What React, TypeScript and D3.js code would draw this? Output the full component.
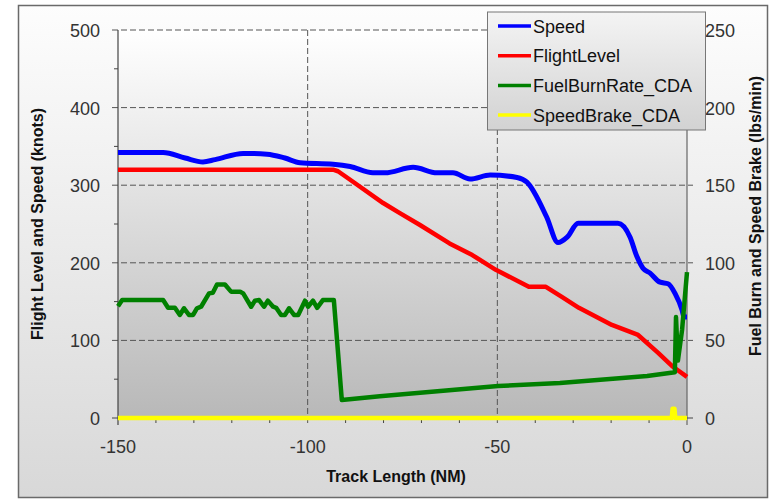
import React from "react";
import * as d3 from "d3";

// ---- Data (Track Length in NM) ----
const speedNM = [-150, -138.1, -132.3, -127.6, -124.4, -117, -110.7, -106, -102, -93.3, -88.8, -82.8, -79.6, -72.2, -65.9, -61.7, -57.2, -51.9, -44.8, -42.2, -37.0, -34.0, -31.6, -28.7, -18.2, -15, -13.2, -11.6, -9.8, -7.1, -5, -3.2, -1.3, -0.8, 0];
const speedKnots = [342, 342, 335, 330, 333, 341, 340, 335, 329, 327, 324, 316, 316, 323, 316, 316, 308, 313, 310, 304, 259, 226, 233, 251, 251, 233, 208, 193, 187, 175, 173, 161, 139, 130, 130];

const flightLevelNM = [-150, -93.3, -92, -88.8, -80.1, -75.7, -70.5, -62.6, -56.6, -50.4, -41.7, -37.2, -33, -28.5, -19.8, -12.9, -7.6, -3.7, 0];
const flightLevelValues = [320, 320, 318, 307, 277, 264, 249, 225, 210, 191, 169, 169, 156, 142, 120, 107, 84, 66, 53];

const fuelNM = [-150, -148.9, -138.1, -136.8, -135, -133.7, -132.6, -131.3, -130.2, -129.2, -128.1, -126, -125, -123.9, -121.8, -120.2, -117.8, -117, -114.9, -113.9, -112.8, -111.5, -110.5, -109.1, -108.3, -107, -106, -104.9, -103.6, -102.5, -100.7, -99.9, -98.6, -97.5, -96, -93.1, -91, -81, -49.8, -33.5, -10.5, -3.2, -2.9, -2.4, -1.3, 0];
const fuelValues = [72, 76, 76, 71, 71, 66.4, 70.7, 66.4, 66.4, 70.7, 71.7, 80.3, 80.7, 86, 86, 81.4, 81.4, 80.3, 71.7, 75.6, 76, 71.7, 75.6, 71.7, 71, 66.4, 66.4, 70.7, 66.4, 66.4, 75.6, 71.7, 75.6, 71, 76, 76, 11.6, 14, 20.6, 22.5, 27, 29.5, 65, 37, 56.7, 94];

const brakeNM = [-150, -4.0, -3.8, -3.3, -3.1, 0];
const brakeValues = [0, 0, 6, 6, 0, 0];

const xTicks = [-150, -100, -50, 0];
const xMinorTicks = [-140, -130, -120, -110, -90, -80, -70, -60, -40, -30, -20, -10];
const leftTicks = [0, 100, 200, 300, 400, 500];
const leftMinorTicks = [50, 150, 250, 350, 450];
const rightTicks = [0, 50, 100, 150, 200, 250];

const seriesNames = ["Speed", "FlightLevel", "FuelBurnRate_CDA", "SpeedBrake_CDA"];
const seriesColors = ["#0000ff", "#ff0000", "#008000", "#ffff00"];

const FONT = "'Liberation Sans', Arial, sans-serif";

export default function App() {
  const x = d3.scaleLinear().domain([-150, 0]).range([118, 687]);
  const yL = d3.scaleLinear().domain([0, 500]).range([418, 30]);
  const yR = d3.scaleLinear().domain([0, 250]).range([418, 30]);

  const mk = (xs: number[], ys: number[], ys2: any, curve: any) =>
    d3
      .line<number>()
      .x((_, i) => x(xs[i]))
      .y((v) => ys2(v))
      .curve(curve)(ys) as string;

  const speedPath = mk(speedNM, speedKnots, yL, d3.curveMonotoneX);
  const flPath = mk(flightLevelNM, flightLevelValues, yL, d3.curveLinear);
  const fuelPath = mk(fuelNM, fuelValues, yR, d3.curveLinear);
  const brakePath = mk(brakeNM, brakeValues, yR, d3.curveLinear);

  const [x0, x1] = x.range();
  const [yb, yt] = yL.range();

  return (
    <div style={{ position: "absolute", left: 0, top: 0 }}>
      <svg width={778} height={499} style={{ display: "block" }} fontFamily={FONT}>
        <defs>
          <linearGradient id="outerBg" x1="0" y1="0" x2="0" y2="1">
            <stop offset="0" stopColor="#fdfdfd" />
            <stop offset="1" stopColor="#d8d8d8" />
          </linearGradient>
          <linearGradient id="plotBg" x1="0" y1="0" x2="0" y2="1">
            <stop offset="0" stopColor="#ffffff" />
            <stop offset="1" stopColor="#b8b8b8" />
          </linearGradient>
          <linearGradient id="legBg" x1="0" y1="0" x2="0" y2="1">
            <stop offset="0" stopColor="#f4f4f4" />
            <stop offset="1" stopColor="#d2d2d2" />
          </linearGradient>
        </defs>

        <rect x={18.5} y={5.5} width={749} height={492} fill="url(#outerBg)" stroke="#6a6a6a" strokeWidth={1.5} />
        <rect x={x0} y={yt} width={x1 - x0} height={yb - yt} fill="url(#plotBg)" />

        {/* horizontal gridlines */}
        {leftTicks.filter((t) => t > 0).map((t) => (
          <line key={"h" + t} x1={x0 - 6} x2={x1 + 6} y1={yL(t)} y2={yL(t)} stroke="#555" strokeWidth={1} strokeDasharray="6,3" />
        ))}
        {/* vertical gridlines */}
        {xTicks.filter((t) => t > -150 && t < 0).map((t) => (
          <line key={"v" + t} x1={x(t)} x2={x(t)} y1={yt} y2={yb + 7} stroke="#555" strokeWidth={1} strokeDasharray="6,3" />
        ))}

        {/* axes */}
        <line x1={x0} x2={x0} y1={yt} y2={yb + 7} stroke="#444" strokeWidth={1.2} />
        <line x1={x1} x2={x1} y1={yt} y2={yb + 7} stroke="#666" strokeWidth={1.2} />
        <line x1={x0 - 6} x2={x1 + 6} y1={yb} y2={yb} stroke="#444" strokeWidth={1.2} />
        {leftMinorTicks.map((t) => (
          <line key={"lm" + t} x1={x0 - 4} x2={x0} y1={yL(t)} y2={yL(t)} stroke="#444" strokeWidth={1} />
        ))}
        {xMinorTicks.map((t) => (
          <line key={"xm" + t} x1={x(t)} x2={x(t)} y1={yb} y2={yb + 5} stroke="#444" strokeWidth={1} />
        ))}

        {/* tick labels */}
        {leftTicks.map((t) => (
          <text key={"lt" + t} x={100} y={yL(t) + 7} textAnchor="end" fontSize={18} fill="#333">{t}</text>
        ))}
        {rightTicks.map((t) => (
          <text key={"rt" + t} x={705} y={yR(t) + 7} textAnchor="start" fontSize={18} fill="#333">{t}</text>
        ))}
        {xTicks.map((t) => (
          <text key={"xt" + t} x={x(t)} y={453} textAnchor="middle" fontSize={18} fill="#333">{t}</text>
        ))}

        {/* axis titles */}
        <text x={396} y={481.5} textAnchor="middle" fontSize={16} fontWeight="bold" fill="#111">Track Length (NM)</text>
        <text transform={`translate(42.5,${(yt + yb) / 2}) rotate(-90)`} textAnchor="middle" fontSize={16} fontWeight="bold" fill="#111">Flight Level and Speed (knots)</text>
        <text transform={`translate(761,216) rotate(-90)`} textAnchor="middle" fontSize={16} fontWeight="bold" fill="#111">Fuel Burn and Speed Brake (lbs/min)</text>

        {/* series */}
        <path d={speedPath} fill="none" stroke={seriesColors[0]} strokeWidth={5} strokeLinejoin="round" />
        <path d={flPath} fill="none" stroke={seriesColors[1]} strokeWidth={4.5} strokeLinejoin="round" />
        <path d={fuelPath} fill="none" stroke={seriesColors[2]} strokeWidth={4.5} strokeLinejoin="round" />
        <path d={brakePath} fill="none" stroke={seriesColors[3]} strokeWidth={4.5} strokeLinejoin="round" />

        {/* legend */}
        <rect x={487.5} y={12} width={218} height={118} fill="url(#legBg)" stroke="#777" strokeWidth={1} />
        {seriesNames.map((n, i) => {
          const cy = 26 + i * 29.7;
          return (
            <g key={n}>
              <line x1={498} x2={531} y1={cy} y2={cy} stroke={seriesColors[i]} strokeWidth={3.5} />
              <text x={533} y={cy + 6.5} fontSize={18} fill="#111">{n}</text>
            </g>
          );
        })}
      </svg>
    </div>
  );
}
